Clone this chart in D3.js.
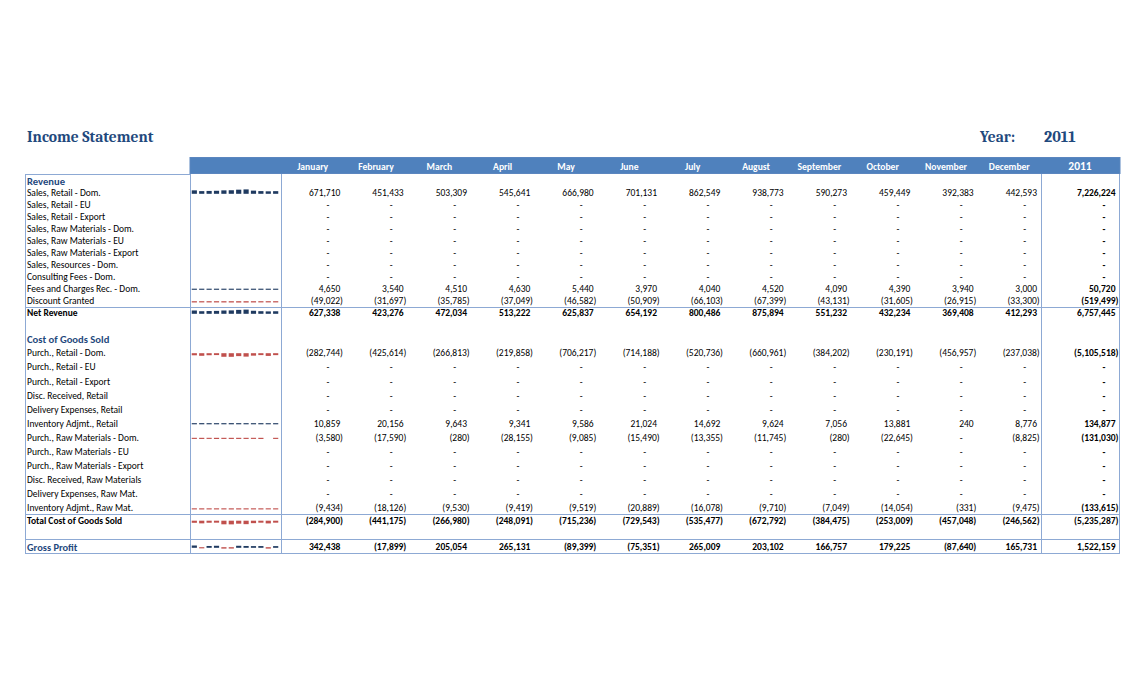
<!DOCTYPE html>
<html><head><meta charset="utf-8">
<script src="https://cdn.jsdelivr.net/npm/d3@7/dist/d3.min.js"></script>
<style>body{margin:0;background:#fff}</style>
</head><body>
<svg id="c" width="1140" height="687"></svg>
<script>
const months = ["January","February","March","April","May","June","July","August","September","October","November","December"];
const yearLabel = "2011";

const revenueLabels = ["Sales, Retail - Dom.","Sales, Retail - EU","Sales, Retail - Export","Sales, Raw Materials - Dom.","Sales, Raw Materials - EU","Sales, Raw Materials - Export","Sales, Resources - Dom.","Consulting Fees - Dom.","Fees and Charges Rec. - Dom.","Discount Granted"];
const salesRetailDom = [671710,451433,503309,545641,666980,701131,862549,938773,590273,459449,392383,442593];
const feesChargesRec = [4650,3540,4510,4630,5440,3970,4040,4520,4090,4390,3940,3000];
const discountGranted = [-49022,-31697,-35785,-37049,-46582,-50909,-66103,-67399,-43131,-31605,-26915,-33300];
const revenueTotals = [7226224,0,0,0,0,0,0,0,50720,-519499];
const netRevenue = [627338,423276,472034,513222,625837,654192,800486,875894,551232,432234,369408,412293];
const netRevenueTotal = 6757445;

const cogsLabels = ["Purch., Retail - Dom.","Purch., Retail - EU","Purch., Retail - Export","Disc. Received, Retail","Delivery Expenses, Retail","Inventory Adjmt., Retail","Purch., Raw Materials - Dom.","Purch., Raw Materials - EU","Purch., Raw Materials - Export","Disc. Received, Raw Materials","Delivery Expenses, Raw Mat.","Inventory Adjmt., Raw Mat."];
const purchRetailDom = [-282744,-425614,-266813,-219858,-706217,-714188,-520736,-660961,-384202,-230191,-456957,-237038];
const inventoryAdjRetail = [10859,20156,9643,9341,9586,21024,14692,9624,7056,13881,240,8776];
const purchRawDom = [-3580,-17590,-280,-28155,-9085,-15490,-13355,-11745,-280,-22645,0,-8825];
const inventoryAdjRaw = [-9434,-18126,-9530,-9419,-9519,-20889,-16078,-9710,-7049,-14054,-331,-9475];
const cogsTotals = [-5105518,0,0,0,0,134877,-131030,0,0,0,0,-133615];
const totalCogs = [-284900,-441175,-266980,-248091,-715236,-729543,-535477,-672792,-384475,-253009,-457048,-246562];
const totalCogsTotal = -5235287;
const grossProfit = [342438,-17899,205054,265131,-89399,-75351,265009,203102,166757,179225,-87640,165731];
const grossProfitTotal = 1522159;

const revenueSeries = [salesRetailDom,null,null,null,null,null,null,null,feesChargesRec,discountGranted];
const cogsSeries = [purchRetailDom,null,null,null,null,inventoryAdjRetail,purchRawDom,null,null,null,null,inventoryAdjRaw];

// ---------- layout ----------
const svg = d3.select("#c");
const lineCol = "#8DA9D4";
const navy = "#1F3A60", red = "#C0504D", titleBlue = "#1F497D";
const sans = "Carlito, Lato, 'Liberation Sans', sans-serif";
const serif = "Cambria, 'Liberation Serif', 'DejaVu Serif', serif";
const fs = 9.5;

const rows = [];
rows.push({label:"Revenue", type:"section", y:181});
revenueLabels.forEach((l,i)=>rows.push({label:l, values:revenueSeries[i], total:revenueTotals[i], y:193+12*i, type:"item"}));
rows.push({label:"Net Revenue", values:netRevenue, total:netRevenueTotal, y:313, type:"sum"});
rows.push({label:"Cost of Goods Sold", type:"section", y:339});
cogsLabels.forEach((l,i)=>rows.push({label:l, values:cogsSeries[i], total:cogsTotals[i], y:353+14.1*i, type:"item"}));
rows.push({label:"Total Cost of Goods Sold", values:totalCogs, total:totalCogsTotal, y:520.5, type:"sum"});
rows.push({label:"Gross Profit", values:grossProfit, total:grossProfitTotal, y:547, type:"gross"});

const colX = d3.scaleBand().domain(months).range([281, 1041]);
const sparkX = d3.scaleBand().domain(months).range([191, 279]).paddingInner(0.3).paddingOuter(0.1);
const allVals = [].concat(salesRetailDom, purchRetailDom, totalCogs, netRevenue, grossProfit);
const sparkH = d3.scaleLinear().domain([0, d3.max(allVals, v=>Math.abs(v))]).range([1.1, 4.4]);
const fmtN = d3.format(",");
const fmt = v => (v==null || v===0) ? "-" : (v<0 ? "(" + fmtN(-v) + ")" : fmtN(v));

// title
svg.append("text").attr("x",27).attr("y",142).attr("font-family",serif).attr("font-weight","bold")
  .attr("font-size",15.5).attr("fill",titleBlue).text("Income Statement");
svg.append("text").attr("x",980).attr("y",142).attr("font-family",serif).attr("font-weight","bold")
  .attr("font-size",15.5).attr("fill",titleBlue).text("Year:");
svg.append("text").attr("x",1044).attr("y",142).attr("font-family",serif).attr("font-weight","bold")
  .attr("font-size",16.2).attr("fill",titleBlue).text(yearLabel);

// header bar
svg.append("rect").attr("x",190).attr("y",157.5).attr("width",930).attr("height",16)
  .attr("fill","#4F81BD").attr("stroke","#5B86BF");
svg.selectAll("text.mh").data(months).join("text").attr("class","mh")
  .attr("x",m=>colX(m)+colX.bandwidth()/2).attr("y",169.5).attr("text-anchor","middle")
  .attr("font-family",sans).attr("font-size",9.6).attr("font-weight","bold").attr("fill","#fff").text(m=>m);
svg.append("text").attr("x",1080).attr("y",170).attr("text-anchor","middle").attr("font-family",sans)
  .attr("font-size",11.5).attr("font-weight","bold").attr("fill","#fff").text(yearLabel);

// grid lines
const g = svg.append("g").attr("stroke",lineCol).attr("stroke-width",1).attr("fill","none");
const hl = (y,x1,x2)=>g.append("line").attr("x1",x1).attr("x2",x2).attr("y1",y).attr("y2",y);
const vl = (x,y1,y2)=>g.append("line").attr("x1",x).attr("x2",x).attr("y1",y1).attr("y2",y2);
hl(174.5,25,190);
hl(307.5,25,1120);
hl(514.5,25,1120);
hl(539.5,25,1120);
hl(553.5,25,1120);
vl(25.5,174,554);
vl(190.5,174,554);
vl(281.5,174,554);
vl(1041.5,174,554);
vl(1119.5,174,554);

// labels
rows.forEach(r=>{
  const t = svg.append("text").attr("x",27).attr("y",r.y).attr("dy","0.35em").attr("font-family",sans).text(r.label);
  if(r.type==="section"){ t.attr("font-size",10.6).attr("font-weight","bold").attr("fill",titleBlue); }
  else if(r.type==="gross"){ t.attr("font-size",10.4).attr("font-weight","bold").attr("fill",titleBlue); }
  else if(r.type==="sum"){ t.attr("font-size",fs).attr("font-weight","bold").attr("fill","#000"); }
  else { t.attr("font-size",fs).attr("fill","#000"); }
});

// numbers and sparklines
rows.filter(r=>r.type!=="section").forEach(r=>{
  const bold = r.type!=="item";
  const vals = r.values || months.map(()=>0);
  months.forEach((m,i)=>{
    const v = vals[i];
    const x0 = colX(m);
    const t = svg.append("text").attr("y",r.y).attr("dy","0.35em").attr("font-family",sans)
      .attr("font-size",fs).attr("fill","#000").attr("font-weight",bold?"bold":"normal").text(fmt(v));
    if(!v){ t.attr("x",x0+47).attr("text-anchor","middle"); }
    else if(v<0){ t.attr("x",x0+62).attr("text-anchor","end"); }
    else { t.attr("x",x0+59.3).attr("text-anchor","end"); }
  });
  const tv = r.total;
  const tt = svg.append("text").attr("y",r.y).attr("dy","0.35em").attr("font-family",sans)
    .attr("font-size",fs).attr("font-weight","bold").attr("fill","#000").text(fmt(tv));
  if(!tv){ tt.attr("x",1104).attr("text-anchor","middle"); }
  else if(tv<0){ tt.attr("x",1118.5).attr("text-anchor","end"); }
  else { tt.attr("x",1115.5).attr("text-anchor","end"); }

  if(r.values){
    const base = r.y + 0.8;
    svg.append("g").selectAll("rect").data(r.values.map((v,i)=>({m:months[i],v})).filter(d=>d.v!==0))
      .join("rect")
      .attr("x",d=>sparkX(d.m)).attr("width",sparkX.bandwidth())
      .attr("y",d=>d.v>0 ? base - sparkH(Math.abs(d.v)) : base - 0.6)
      .attr("height",d=>sparkH(Math.abs(d.v)))
      .attr("fill",d=>d.v>0?navy:red);
  }
});
</script>
</body></html>
